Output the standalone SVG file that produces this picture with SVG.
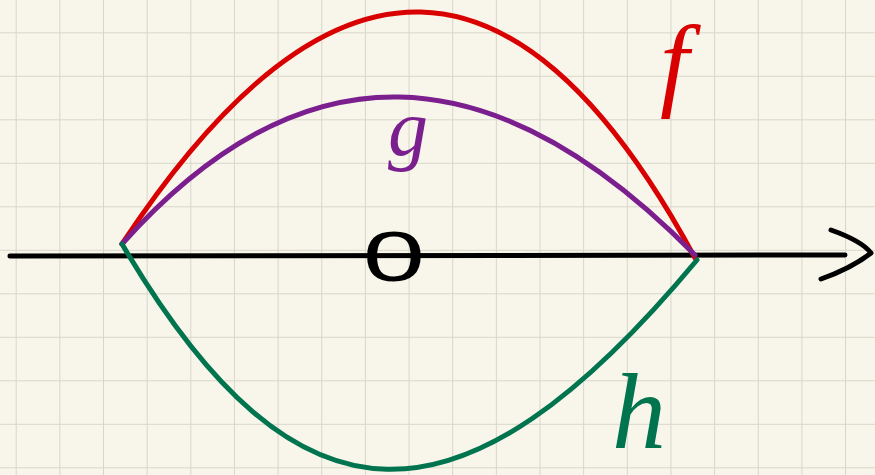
<svg xmlns="http://www.w3.org/2000/svg" width="875" height="475" viewBox="0 0 875 475">
<defs>
<pattern id="grid" x="15.7" y="32.3" width="43.65" height="43.5" patternUnits="userSpaceOnUse">
<path d="M0,0 V43.5 M0,0 H43.65" fill="none" stroke="#d7d6c9" stroke-width="2"/>
</pattern>
</defs>
<style>
.c{fill:none;stroke-width:5;stroke-linecap:round;stroke-linejoin:round}
.lbl{font-family:"Liberation Serif","DejaVu Serif",serif;font-style:italic}
</style>
<rect width="875" height="475" fill="#f8f6ea"/>
<rect width="875" height="475" fill="url(#grid)"/>
<g id="axis">
<path class="c" d="M10,256 L845,255" stroke="#000" stroke-width="5.5"/>
<path class="c" d="M831,230 Q862,241 871,253 Q852,268 821,279" stroke="#000" stroke-width="5"/>
</g>
<g id="curves">
<path id="f-curve" class="c" d="M122,244 Q433,-227 695,258" stroke="#d80000"/>
<path id="g-curve" class="c" d="M122,244 Q390,-55.5 695,255" stroke="#7b1e8e"/>
<path id="h-curve" class="c" d="M122,244 C297,541.5 462,542 697,260" stroke="#00734f"/>
</g>
<g id="labels">
<text class="lbl" x="660" y="97" font-size="104" fill="#d80000">f</text>
<text class="lbl" x="388" y="155" font-size="80" fill="#7b1e8e">g</text>
<text class="lbl" x="612" y="448" font-size="108" fill="#00734f">h</text>
<text transform="translate(394,281) scale(1.6,1)" x="0" y="0" text-anchor="middle" font-family="Liberation Sans, Arial, sans-serif" font-size="70" fill="#000">0</text>
</g>
</svg>
